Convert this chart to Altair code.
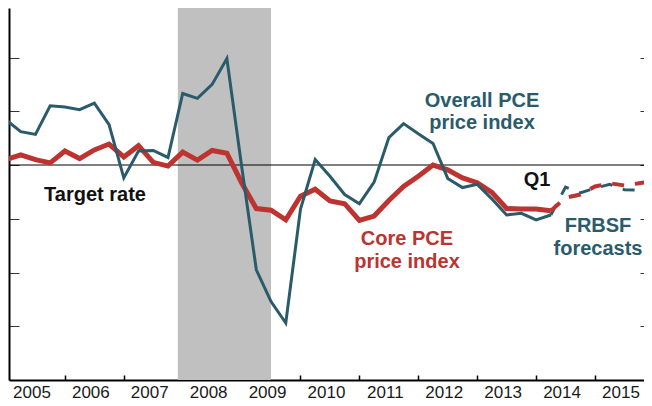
import altair as alt
import pandas as pd

# ---------------- data ----------------
years = [2005, 2006, 2007, 2008, 2009, 2010, 2011, 2012, 2013, 2014, 2015]

actual_quarters = [f"{y}Q{q}" for y in range(2005, 2015) for q in range(1, 5)][:38]
overall_actual = [2.84, 2.62, 2.57, 3.10, 3.08, 3.03, 3.15, 2.75, 1.76, 2.26,
                  2.27, 2.14, 3.33, 3.24, 3.50, 3.98, 1.98, 0.05, -0.54, -0.94,
                  1.18, 2.10, 1.79, 1.45, 1.28, 1.68, 2.51, 2.77, 2.58, 2.40,
                  1.75, 1.58, 1.64, 1.37, 1.07, 1.10, 0.98, 1.07]
core_actual = [2.10, 2.19, 2.10, 2.04, 2.26, 2.12, 2.28, 2.39, 2.15, 2.36,
               2.05, 1.98, 2.24, 2.09, 2.27, 2.22, 1.67, 1.19, 1.16, 0.98,
               1.42, 1.55, 1.33, 1.28, 0.97, 1.05, 1.34, 1.60, 1.79, 2.00,
               1.91, 1.76, 1.67, 1.49, 1.19, 1.18, 1.18, 1.15]

forecast_quarters = ["2014Q2", "2014Q3", "2014Q4", "2015Q1", "2015Q2", "2015Q3", "2015Q4", "2016Q1"]
overall_forecast = [1.07, 1.59, 1.48, 1.57, 1.64, 1.54, 1.53, 1.59]
core_forecast = [1.15, 1.39, 1.45, 1.60, 1.66, 1.62, 1.66, 1.70]

recession_start = [2007.917]
recession_end = [2009.5]
target_rate = 2

ann_text = ["Target rate", "Overall PCE", "price index", "Core PCE", "price index", "FRBSF", "forecasts", "Q1"]
ann_x = [2006.511, 2013.082, 2013.082, 2011.808, 2011.808, 2015.051, 2015.051, 2014.015]
ann_y = [1.338, 3.079, 2.661, 0.507, 0.087, 0.745, 0.327, 1.607]
ann_group = ["black", "teal", "teal", "red", "red", "teal", "teal", "black"]

# ---------------- styling ----------------
TEAL = "#2a5b6b"
RED = "#bd3330"
FONT = "Liberation Sans"
W, H = 635, 372
X_DOMAIN = [2005.051, 2015.832]
Y_DOMAIN = [-2, 4.921]


def qt(s):
    return int(s[:4]) + (int(s[-1]) - 1) / 4


act = pd.DataFrame({"t": [qt(s) for s in actual_quarters],
                    "overall": overall_actual, "core": core_actual})
fc = pd.DataFrame({"t": [qt(s) for s in forecast_quarters],
                   "overall": overall_forecast, "core": core_forecast})
rec = pd.DataFrame({"start": recession_start, "end": recession_end})
ann = pd.DataFrame({"text": ann_text, "x": ann_x, "y": ann_y, "g": ann_group})

xs = alt.Scale(domain=X_DOMAIN, nice=False, zero=False)
ys = alt.Scale(domain=Y_DOMAIN, nice=False, zero=False)

# year labels sit in the middle of each year band
bottom_axis = alt.Axis(orient="bottom", values=[y + 0.5 for y in years],
                       labelExpr="toString(floor(datum.value))", ticks=False, tickSize=0,
                       labelAlign="center", labelOffset=-4, labelPadding=4, labelFont=FONT,
                       labelFontSize=17, labelColor="#1a1a1a", labelFlush=False,
                       labelOverlap=False, labelBound=False, domain=True, domainColor="black",
                       domainWidth=2, grid=False, title=None)
top_tick_axis = alt.Axis(orient="top", offset=-H, values=years[1:], labels=False, domain=False,
                         ticks=True, tickSize=5, tickColor="black", tickWidth=1.5,
                         grid=False, title=None)
left_axis = alt.Axis(orient="right", offset=-W, values=[-1, 0, 1, 2, 3, 4], labels=False,
                     domain=True, domainColor="black", domainWidth=2, ticks=True, tickSize=10,
                     tickColor="#333333", tickWidth=1, grid=False, title=None)
right_axis = alt.Axis(orient="left", offset=-W, values=[-1, 0, 1, 2, 3, 4], labels=False,
                      domain=False, ticks=True, tickSize=4, tickColor="#333333", tickWidth=1,
                      grid=False, title=None)

band = alt.Chart(rec).mark_rect(color="#c0c0c0", clip=True).encode(
    x=alt.X("start:Q", scale=xs, axis=None), x2="end:Q")

target = alt.Chart(rec).mark_rule(color="black", strokeWidth=1).encode(
    y=alt.datum(target_rate, scale=ys, axis=None))

core_line = alt.Chart(act).mark_line(color=RED, strokeWidth=5, clip=True).encode(
    x=alt.X("t:Q", scale=xs, axis=top_tick_axis),
    y=alt.Y("core:Q", scale=ys, axis=right_axis))

overall_line = alt.Chart(act).mark_line(color=TEAL, strokeWidth=3, clip=True).encode(
    x=alt.X("t:Q", scale=xs, axis=bottom_axis),
    y=alt.Y("overall:Q", scale=ys, axis=left_axis))

overall_fc = alt.Chart(fc).mark_line(color=TEAL, strokeWidth=3, strokeDash=[12, 11], clip=True).encode(
    x=alt.X("t:Q", scale=xs, axis=None),
    y=alt.Y("overall:Q", scale=ys, axis=None))

core_fc = alt.Chart(fc).mark_line(color=RED, strokeWidth=4, strokeDash=[12, 11], clip=True).encode(
    x=alt.X("t:Q", scale=xs, axis=None),
    y=alt.Y("core:Q", scale=ys, axis=None))

labels = alt.Chart(ann).mark_text(font=FONT, fontSize=20, fontWeight="bold",
                                  align="center", baseline="alphabetic").encode(
    x=alt.X("x:Q", scale=xs, axis=None),
    y=alt.Y("y:Q", scale=ys, axis=None),
    text="text:N",
    color=alt.Color("g:N", scale=alt.Scale(domain=["black", "teal", "red"],
                                           range=["#111111", TEAL, RED]), legend=None))

chart = alt.layer(band, target, core_line, overall_line, overall_fc, core_fc, labels).resolve_axis(
    x="independent", y="independent"
).properties(
    width=W, height=H,
    autosize=alt.AutoSizeParams(type="none"),
    padding={"left": 1, "top": 0, "right": 0, "bottom": 18},
    background="white",
).configure_view(stroke=None)

chart.save("out.html", embed_options={"renderer": "svg", "actions": False})
